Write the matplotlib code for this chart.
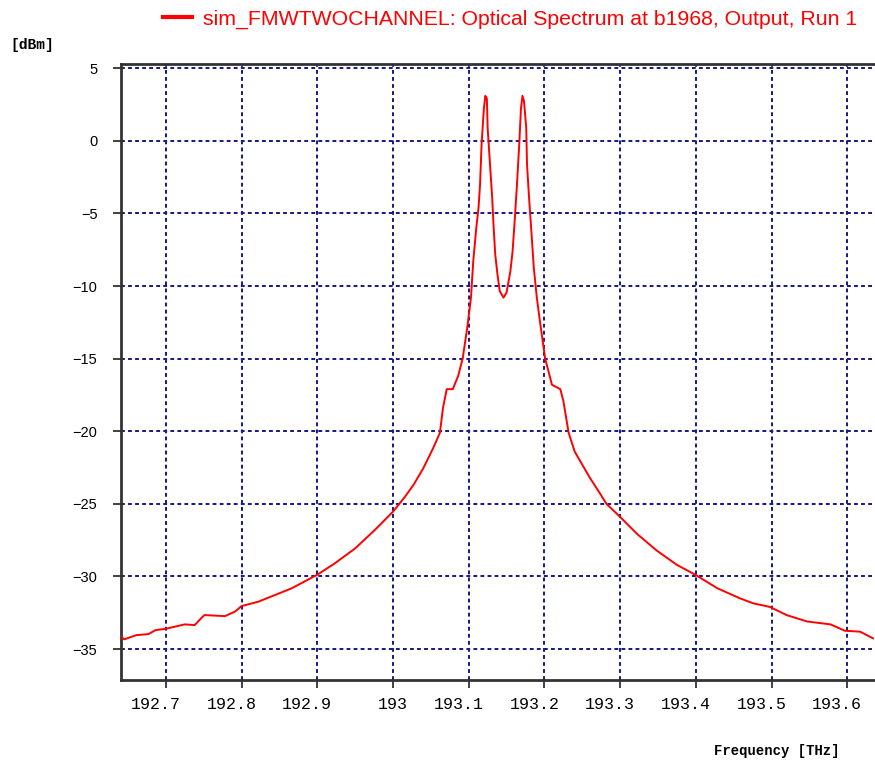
import matplotlib
matplotlib.use('Agg')
import matplotlib.pyplot as plt
from matplotlib.lines import Line2D
from matplotlib.transforms import ScaledTranslation

# spectrum (THz, dBm)
freq = [192.641, 192.645, 192.661, 192.677, 192.686, 192.700, 192.725, 192.738,
        192.748, 192.751, 192.778, 192.791, 192.800, 192.822, 192.844, 192.866,
        192.900, 192.923, 192.950, 192.976, 193.000, 193.016, 193.027, 193.040,
        193.053, 193.062, 193.066, 193.071, 193.079, 193.086, 193.092, 193.098,
        193.103, 193.106, 193.110, 193.113, 193.115, 193.117, 193.120, 193.122,
        193.124, 193.125, 193.128, 193.131, 193.133, 193.135, 193.138, 193.141,
        193.146, 193.150, 193.155, 193.158, 193.161, 193.164, 193.167, 193.169,
        193.171, 193.173, 193.176, 193.177, 193.180, 193.183, 193.186, 193.190,
        193.194, 193.201, 193.210, 193.221, 193.225, 193.232, 193.240, 193.260,
        193.273, 193.282, 193.300, 193.322, 193.348, 193.375, 193.400, 193.428,
        193.458, 193.476, 193.498, 193.520, 193.547, 193.578, 193.597, 193.617,
        193.634]
power = [-34.15, -34.33, -34.04, -33.97, -33.70, -33.60, -33.30, -33.35,
         -32.80, -32.66, -32.73, -32.43, -32.04, -31.74, -31.28, -30.82,
         -29.88, -29.10, -28.07, -26.80, -25.54, -24.50, -23.70, -22.55,
         -21.17, -20.10, -18.40, -17.10, -17.10, -16.20, -15.00, -12.90,
         -10.80, -8.30, -6.00, -4.60, -3.00, -0.25, 2.20, 3.10,
         2.90, 0.90, -1.50, -3.90, -6.00, -7.80, -9.20, -10.35,
         -10.80, -10.45, -9.00, -7.60, -5.30, -2.80, 0.00, 2.20,
         3.10, 2.75, 0.90, -1.60, -4.15, -6.40, -8.75, -10.80,
         -12.40, -15.00, -16.80, -17.10, -17.90, -20.10, -21.40, -23.20,
         -24.25, -25.00, -25.90, -27.05, -28.20, -29.20, -29.90, -30.80,
         -31.50, -31.85, -32.10, -32.66, -33.10, -33.30, -33.74, -33.80,
         -34.26]

xticks = [192.7, 192.8, 192.9, 193.0, 193.1, 193.2, 193.3, 193.4, 193.5, 193.6]
xticklabels = ['192.7', '192.8', '192.9', '193', '193.1', '193.2', '193.3',
               '193.4', '193.5', '193.6']
yticks = [5, 0, -5, -10, -15, -20, -25, -30, -35]

legend_text = 'sim_FMWTWOCHANNEL: Optical Spectrum at b1968, Output, Run 1'

fig = plt.figure(figsize=(8.75, 7.63), dpi=100)
ax = fig.add_axes([121 / 875, 1 - 680 / 763, 1 - 121 / 875, (680 - 64.3) / 763])

grid_c = '#1c1c86'
for x in xticks:
    ax.axvline(x, color=grid_c, lw=1.45, dashes=(1.9, 1.6), zorder=1)
for y in yticks:
    ax.axhline(y, color=grid_c, lw=1.45, dashes=(1.9, 1.6), zorder=1)

ax.plot(freq, power, color='red', lw=1.4, zorder=3)

ax.set_xlim(192.6407, 193.6367)
ax.set_ylim(-37.13, 5.27)

ax.tick_params(axis='both', direction='out', length=6, width=1.3, color='#333333')
ax.tick_params(axis='x', pad=6)
ax.tick_params(axis='y', pad=11)

ax.set_xticks(xticks)
ax.set_xticklabels(xticklabels, family='Liberation Mono', fontsize=12)
ax.set_yticks(yticks)
ax.set_yticklabels([str(v).replace('-', '\u2212') for v in yticks],
                   family='Liberation Sans', fontsize=10.5)

# the decimal point sits on the tick -> shift those labels one char left
shift = ScaledTranslation(-0.1, 0, fig.dpi_scale_trans)
for tick, lab in zip(ax.xaxis.get_major_ticks(), xticklabels):
    if '.' in lab:
        tick.label1.set_transform(tick.label1.get_transform() + shift)

for side in ['left', 'bottom', 'top']:
    ax.spines[side].set_color('#333333')
    ax.spines[side].set_linewidth(2)
ax.spines['right'].set_visible(False)

fig.text(10 / 875, 1 - 45 / 763, '[dBm]', family='Liberation Mono', fontsize=10.5,
         weight='bold', va='center', ha='left')
fig.text(840 / 875, 1 - 751 / 763, 'Frequency [THz]', family='Liberation Mono',
         fontsize=10, weight='bold', va='center', ha='right')

handle = Line2D([0], [0], color='red', lw=3)
leg = fig.legend([handle], [legend_text], loc='center right',
                 bbox_to_anchor=(868 / 875, 1 - 19 / 763), frameon=False,
                 handlelength=1.35, handletextpad=0.55, borderpad=0,
                 prop={'family': 'Liberation Sans', 'size': 15.3})
for t in leg.get_texts():
    t.set_color('red')

fig.savefig('out.png', dpi=100)
